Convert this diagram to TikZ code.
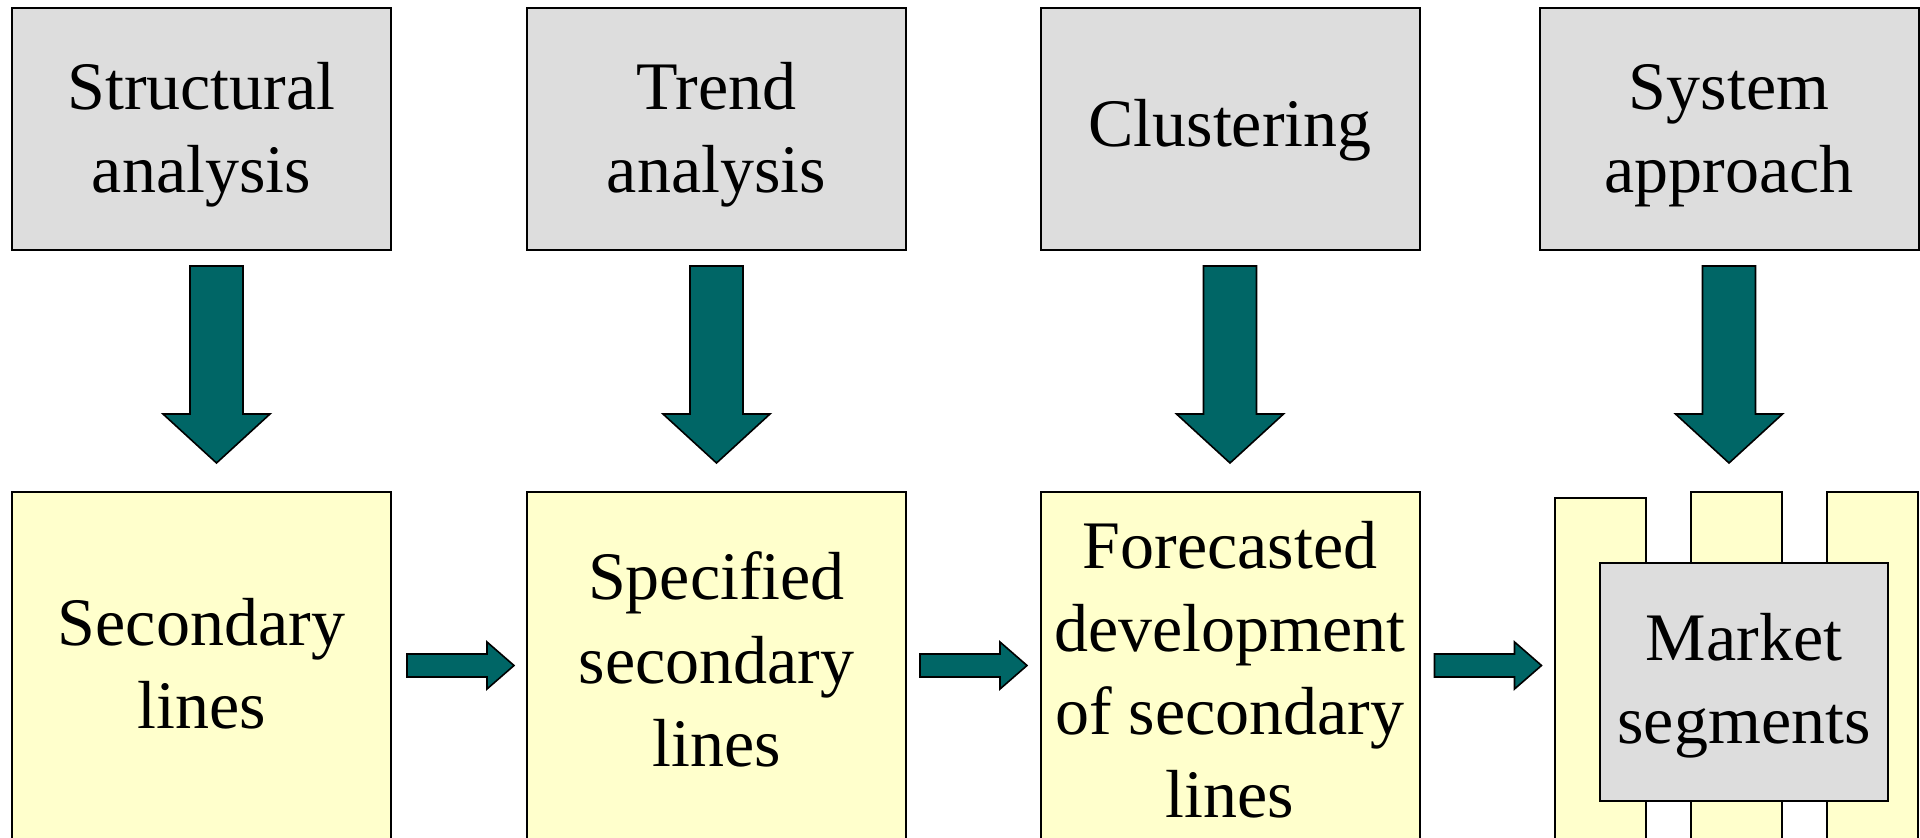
\documentclass[tikz,border=0pt]{standalone}
\usepackage{fontspec}
\setmainfont{Liberation Serif}
\usetikzlibrary{calc}
\definecolor{boxgray}{HTML}{DDDDDD}
\definecolor{boxyellow}{HTML}{FFFFCC}
\definecolor{arrowteal}{HTML}{006666}
\tikzset{
  topbox/.style={draw=black, line width=1pt, fill=boxgray, minimum width=189.5pt, minimum height=121pt, inner sep=0pt},
  lowbox/.style={draw=black, line width=1pt, fill=boxyellow, minimum width=189.5pt, minimum height=194pt, inner sep=0pt},
  stripbox/.style={draw=black, line width=1pt, fill=boxyellow, minimum width=45.5pt, inner sep=0pt},
  segbox/.style={draw=black, line width=1.2pt, fill=boxgray, minimum width=144pt, minimum height=119pt, inner sep=0pt},
  lbl/.style={anchor=base, inner sep=0pt, font=\fontsize{34}{41.5}\selectfont},
  fatarrow/.style={draw=black, line width=0.8pt, fill=arrowteal, line join=miter},
  fatdown/.pic={\path[fatarrow] (-26.5,0) -- (26.5,0) -- (26.5,148) -- (53.5,148) -- (0,197) -- (-53.5,148) -- (-26.5,148) -- cycle;},
  fatright/.pic={\path[fatarrow] (0,-11.5) -- (80,-11.5) -- (80,-23.5) -- (107,0) -- (80,23.5) -- (80,11.5) -- (0,11.5) -- cycle;}
}
\newcommand{\lines}[1]{\begin{tabular}[t]{@{}c@{}}#1\end{tabular}}
\begin{document}
\begin{tikzpicture}[x=0.5pt,y=-0.5pt]
\path[use as bounding box] (0,0) rectangle (1920,838);
\clip (0,0) rectangle (1920,838);
% top boxes
\node[topbox] (t1) at (201.5,129) {};
\node[topbox] (t2) at (716.5,129) {};
\node[topbox] (t3) at (1230,129) {};
\node[topbox] (t4) at (1729,129) {};
% bottom boxes
\node[lowbox] (b1) at (201.5,686) {};
\node[lowbox] (b2) at (716.5,686) {};
\node[lowbox] (b3) at (1230,686) {};
% market segment strips
\node[stripbox, minimum height=191pt] (s1) at (1600.5,689) {};
\node[stripbox, minimum height=194pt] (s2) at (1736.5,686) {};
\node[stripbox, minimum height=194pt] (s3) at (1872.5,686) {};
\node[segbox] (m) at (1744,682) {};
% texts
\node[lbl] (l1) at (201.5,110) {\lines{Structural\\analysis}};
\node[lbl] (l2) at (716.5,110) {\lines{Trend\\analysis}};
\node[lbl] (l3) at (1230,147) {\lines{Clustering}};
\node[lbl] (l4) at (1729,110) {\lines{System\\approach}};
\node[lbl] (l5) at (201.5,645) {\lines{Secondary\\lines}};
\node[lbl] (l6) at (716.5,600) {\lines{Specified\\secondary\\lines}};
\node[lbl] (l7) at (1230,568) {\lines{Forecasted\\development\\of secondary\\lines}};
\node[lbl] (l8) at (1744,660) {\lines{Market\\segments}};
% down arrows
\pic at ($(t1.south)+(15,15)$) {fatdown};
\pic at ($(t2.south)+(0,15)$) {fatdown};
\pic at ($(t3.south)+(0,15)$) {fatdown};
\pic at ($(t4.south)+(0,15)$) {fatdown};
% right arrows
\pic at ($(b1.north east)+(15,174.5)$) {fatright};
\pic at ($(b2.north east)+(13,174.5)$) {fatright};
\pic at ($(b3.north east)+(14,174.5)$) {fatright};
\end{tikzpicture}
\end{document}
